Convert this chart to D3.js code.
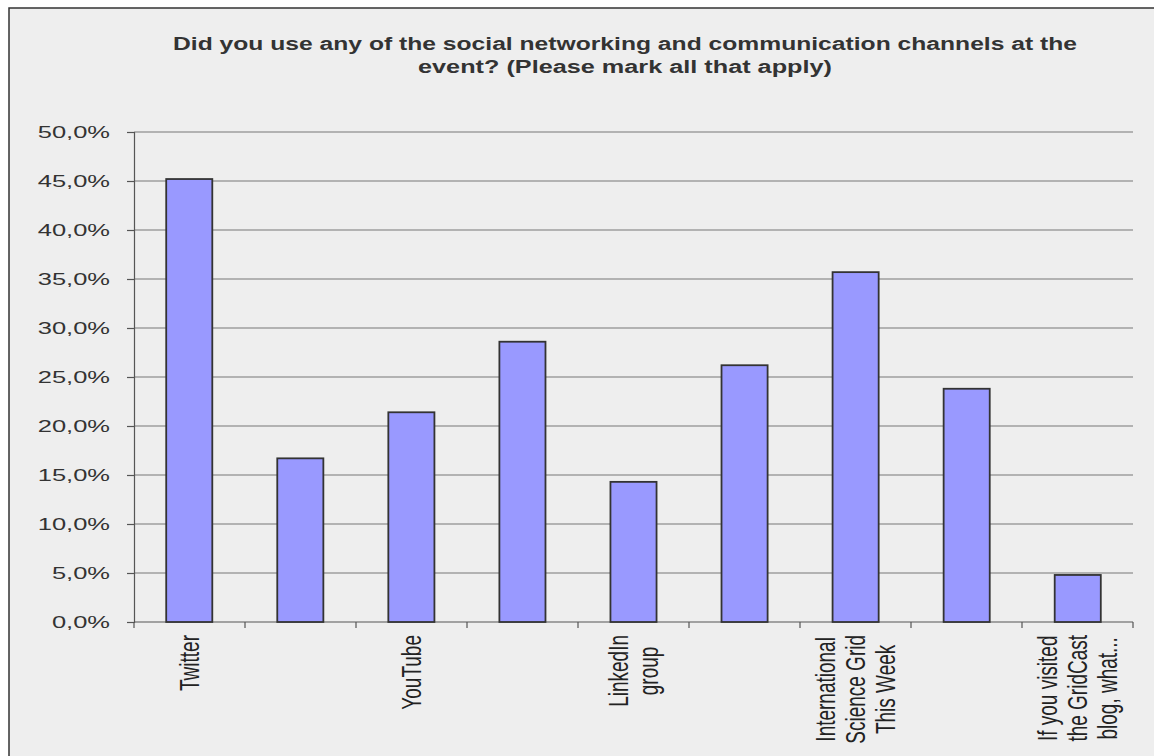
<!DOCTYPE html>
<html><head><meta charset="utf-8">
<script src="https://cdn.jsdelivr.net/npm/d3@7"></script>
<style>
html,body{margin:0;padding:0;background:#fff;}
svg{display:block;font-family:"Liberation Sans",Arial,sans-serif;}
</style></head>
<body>
<svg id="chart" width="1154" height="756"></svg>
<script>
const categories = ["Twitter", "", "YouTube", "", "LinkedIn group", "", "International Science Grid This Week", "", "If you visited the GridCast blog, what..."];
const labelLines = [["Twitter"], [], ["YouTube"], [], ["LinkedIn", "group"], [], ["International", "Science Grid", "This Week"], [], ["If you visited", "the GridCast", "blog, what..."]];
const values = [45.2, 16.7, 21.4, 28.6, 14.3, 26.2, 35.7, 23.8, 4.8];
const yTicks = [0, 5, 10, 15, 20, 25, 30, 35, 40, 45, 50];
const titleLines = ["Did you use any of the social networking and communication channels at the", "event? (Please mark all that apply)"];

const svg = d3.select("#chart");
svg.append("rect").attr("x", 9).attr("y", 8).attr("width", 1150).attr("height", 760)
  .attr("fill", "#eeeeee").attr("stroke", "#333").attr("stroke-width", 1.5);

const pLeft = 134, pRight = 1133, pTop = 132, pBottom = 622;
const x = d3.scaleBand().domain(d3.range(categories.length)).range([pLeft, pRight]).paddingInner(0.585).paddingOuter(0.29);
const xOuter = d3.scaleBand().domain(d3.range(categories.length)).range([pLeft, pRight]);
const y = d3.scaleLinear().domain([0, 50]).range([pBottom, pTop]);

// title
const titleLens = [904, 414];
svg.append("g").selectAll("text").data(titleLines).join("text")
  .attr("x", (d, i) => 625 - titleLens[i] / 2).attr("y", (d, i) => 50 + i * 23)
  .attr("textLength", (d, i) => titleLens[i]).attr("lengthAdjust", "spacingAndGlyphs")
  .attr("font-size", 18).attr("font-weight", "bold").attr("fill", "#333")
  .text(d => d);

// gridlines
svg.append("g").selectAll("line").data(yTicks.filter(d => d > 0)).join("line")
  .attr("x1", pLeft).attr("x2", pRight).attr("y1", d => y(d)).attr("y2", d => y(d))
  .attr("stroke", "#777").attr("stroke-width", 1.2);

// y axis
const ySx = 1.5;
const yAxis = d3.axisLeft(y).tickValues(yTicks).tickSize(7).tickPadding(16)
  .tickFormat(d => d3.format(".1f")(d).replace(".", ",") + "%");
const gy = svg.append("g").attr("transform", `translate(${pLeft},0)`).call(yAxis);
gy.select(".domain").attr("stroke", "#555").attr("stroke-width", 1.2);
gy.selectAll(".tick line").attr("stroke", "#555").attr("stroke-width", 1.2);
gy.selectAll("text").attr("font-size", 17).attr("fill", "#333")
  .attr("font-family", "'Liberation Sans',Arial,sans-serif")
  .attr("x", -24 / ySx).attr("transform", `scale(${ySx},1)`);

// x axis line and ticks
svg.append("line").attr("x1", pLeft).attr("x2", pRight).attr("y1", pBottom).attr("y2", pBottom)
  .attr("stroke", "#555").attr("stroke-width", 1.2);
const bounds = d3.range(categories.length + 1).map(i => i < categories.length ? xOuter(i) : pRight);
svg.append("g").selectAll("line").data(bounds).join("line")
  .attr("x1", d => d).attr("x2", d => d).attr("y1", pBottom).attr("y2", pBottom + 6)
  .attr("stroke", "#555").attr("stroke-width", 1.2);

// bars
svg.append("g").selectAll("rect").data(values).join("rect")
  .attr("x", (d, i) => x(i)).attr("width", x.bandwidth())
  .attr("y", d => y(d)).attr("height", d => pBottom - y(d))
  .attr("fill", "#9999ff").attr("stroke", "#333").attr("stroke-width", 1.8);

// x labels
const lg = svg.append("g");
const lSx = 1.45;
labelLines.forEach((lines, i) => {
  if (!lines.length) return;
  const cx = xOuter(i) + xOuter.bandwidth() / 2;
  const n = lines.length;
  const t = lg.append("text")
    .attr("transform", `translate(${cx},${pBottom + 13}) scale(${lSx},1) rotate(-90)`)
    .attr("font-size", 19).attr("fill", "#222");
  t.selectAll("tspan").data(lines).join("tspan")
    .attr("x", 0).attr("y", (d, j) => (j - (n - 1) / 2) * 20.7 + 6.8)
    .attr("text-anchor", "middle")
    .text(d => d);
  const maxLen = d3.max(t.selectAll("tspan").nodes(), nd => nd.getComputedTextLength());
  t.selectAll("tspan").attr("x", -maxLen / 2);
});
</script>
</body></html>
